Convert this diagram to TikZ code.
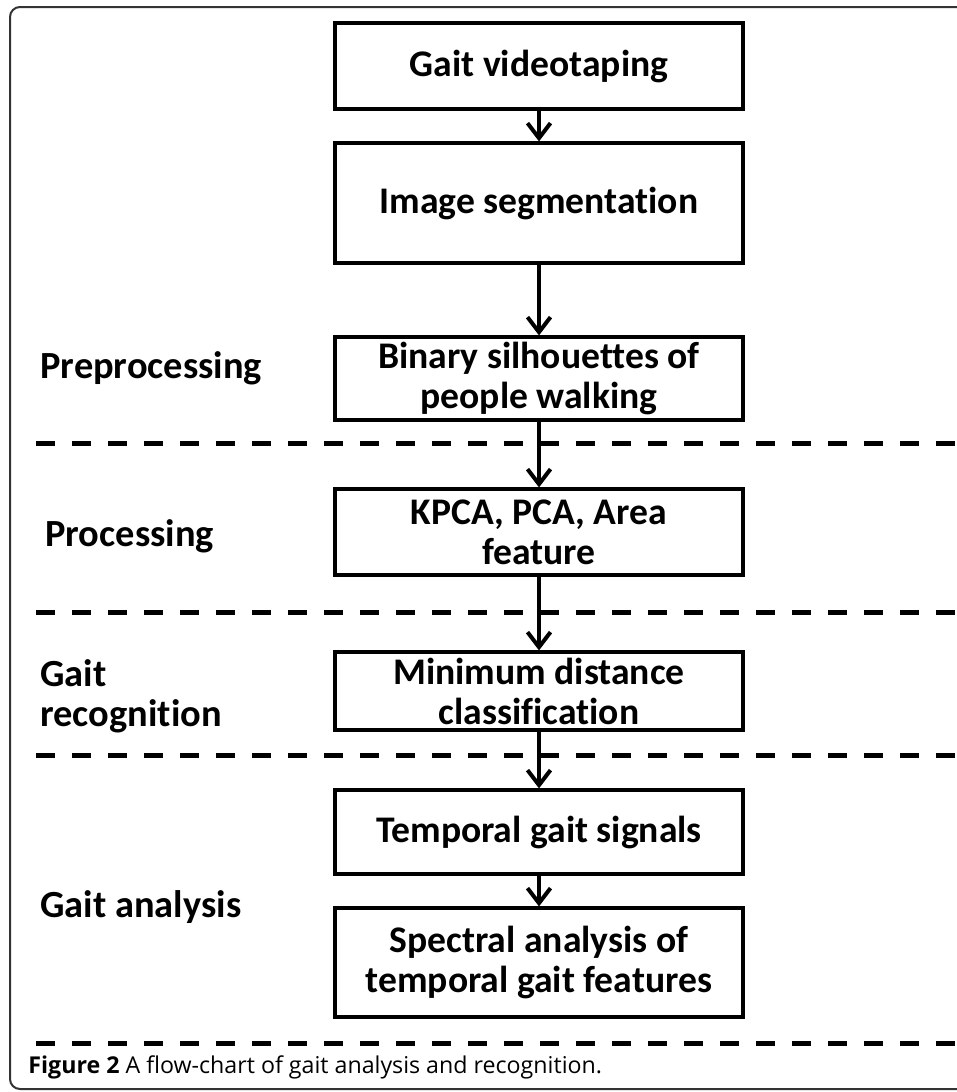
\documentclass[tikz,border=0pt]{standalone}
\usepackage{fontspec}
\setmainfont{Carlito}[Ligatures=NoCommon]
\newfontfamily\captionfont{Open Sans}
\usetikzlibrary{arrows.meta}

\begin{document}
\begin{tikzpicture}[
    x=0.5pt, y=-0.5pt,
    % styles for the flow-chart
    stepbox/.style={rectangle, draw=black, line width=1.6pt, minimum width=204pt, inner sep=0pt, align=center, font=\fontsize{18.8}{20}\selectfont\bfseries},
    stagelabel/.style={inner sep=0pt, align=left, font=\fontsize{19.2}{20}\selectfont\bfseries},
    steparrow/.style={line width=2pt, -{Straight Barb[length=7.5pt, width=11.5pt, line width=2pt]}},
    divider/.style={line width=2.5pt, dash pattern=on 9.5pt off 8.5pt}
]
    \useasboundingbox (0,0) rectangle (957,1092);
    \clip (0,0) rectangle (957,1092);

    % outer frame
    \draw [line width=1pt, draw=black!80, rounded corners=5pt] (10,7) rectangle (985,1089);

    % boxes
    \node [stepbox, minimum height=43pt] (video) at (539, 66) {Gait videotaping};
    \node [stepbox, minimum height=60pt] (segm) at (539, 203) {Image segmentation};
    \node [stepbox, minimum height=41.5pt] (silh) at (539, 378.5) {Binary silhouettes of\\people walking};
    \node [stepbox, minimum height=43pt] (feat) at (539, 532) {KPCA, PCA, Area\\feature};
    \node [stepbox, minimum height=39pt] (classif) at (539, 691) {Minimum distance\\classification};
    \node [stepbox, minimum height=42pt] (signal) at (539, 832) {Temporal gait signals};
    \node [stepbox, minimum height=54.5pt] (spectr) at (539, 962.5) {Spectral analysis of\\temporal gait features};

    % stage labels
    \node [stagelabel, anchor=base west] (prep) at (40, 378) {Preprocessing};
    \node [stagelabel, anchor=base west] (proc) at (45, 546) {Processing};
    \node [stagelabel, anchor=west] (recog) at (40, 696) {Gait\\recognition};
    \node [stagelabel, anchor=base west] (anal) at (40, 917) {Gait analysis};

    % dashed dividers
    \draw [divider] (36, 443) -- (957, 443);
    \draw [divider] (36, 612) -- (957, 612);
    \draw [divider] (36, 755) -- (957, 755);
    \draw [divider] (36, 1043) -- (957, 1043);

    % arrows
    \draw [steparrow] (video) -- (segm);
    \draw [steparrow] (segm) -- (silh);
    \draw [steparrow] (silh) -- (feat);
    \draw [steparrow] (feat) -- (classif);
    \draw [steparrow] (classif) -- (signal);
    \draw [steparrow] (signal) -- (spectr);

    % caption
    \node [inner sep=0pt, anchor=base west, font=\captionfont\fontsize{11.6}{13}\selectfont] (caption) at (28, 1073) {\textbf{Figure 2} A flow-chart of gait analysis and recognition.};
\end{tikzpicture}
\end{document}
